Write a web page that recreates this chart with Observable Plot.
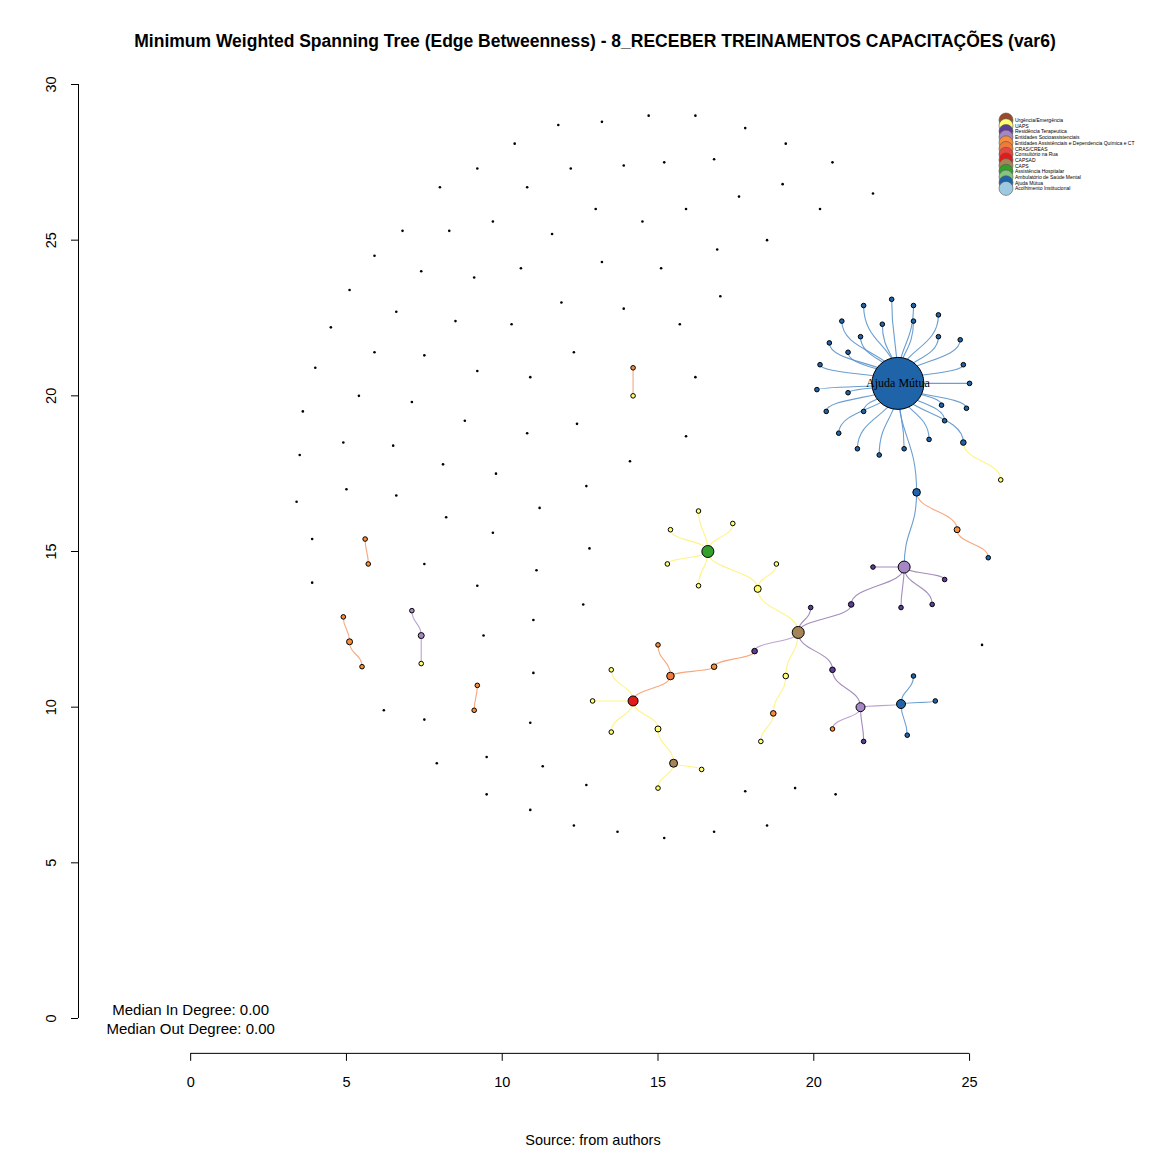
<!DOCTYPE html>
<html><head><meta charset="utf-8">
<script src="https://cdn.jsdelivr.net/npm/d3@7"></script>
<script src="https://cdn.jsdelivr.net/npm/@observablehq/plot@0.6"></script>
<style>
body{margin:0;background:#fff;font-family:"Liberation Sans",Arial,sans-serif}
#wrap{position:relative;width:1152px;height:1152px}
#title{position:absolute;top:31px;left:0;width:1190px;text-align:center;font-weight:bold;font-size:17.5px}
#source{position:absolute;top:1132px;left:0;width:1186px;text-align:center;font-size:14.5px}
#legend{position:absolute;left:995px;top:110px}
</style></head>
<body><div id="wrap"><div id="chart"></div>
<div id="title">Minimum Weighted Spanning Tree (Edge Betweenness) - 8_RECEBER TREINAMENTOS CAPACITAÇÕES (var6)</div>
<div id="source">Source: from authors</div>
<div id="legend"></div></div>
<script>
// categorias e cores
const categorias = ["Urgência/Emergência","UAPS","Residência Terapeutica","Entidades Socioassistenciais",
  "Entidades Assistênciais e Dependencia Química e CT","CRAS/CREAS","Consultório na Rua","CAPSAD","CAPS",
  "Assistência Hospitalar","Ambulatório de Saúde Mental","Ajuda Mútua","Acolhimento Institucional"];
const cores = ["#9a4a2a","#ffff73","#5e3c99","#a487c4","#f68e3c","#f07a3a","#e8473f","#e31a1c","#a58458",
  "#33a02c","#86c57f","#1f64a8","#9ecae1"];
const corAresta = {1:"#fff27a",2:"#9a7fb5",3:"#b498cc",4:"#f4a070",5:"#f4a070",11:"#5b93cc",8:"#b498cc"};

// nós isolados (x, y)
const isolados = [[14.7,29.0],[16.2,29.0],[13.2,28.8],[11.8,28.7],[17.8,28.6],[10.4,28.1],[19.1,28.1],
 [9.2,27.3],[12.2,27.3],[13.9,27.4],[15.2,27.5],[16.8,27.6],[20.6,27.5],[8.0,26.7],[10.8,26.7],[17.6,26.4],
 [19.0,26.8],[21.9,26.5],[13.0,26.0],[14.5,25.6],[15.9,26.0],[20.2,26.0],[6.8,25.3],[8.3,25.3],[9.7,25.6],
 [11.6,25.2],[18.5,25.0],[16.9,24.7],[5.9,24.5],[13.2,24.3],[15.1,24.1],[10.6,24.1],[7.4,24.0],[9.1,23.8],
 [5.1,23.4],[11.9,23.0],[13.9,22.8],[17.0,23.2],[6.6,22.7],[8.5,22.4],[15.7,22.3],[4.5,22.2],[10.3,22.3],
 [5.9,21.4],[7.5,21.3],[12.3,21.4],[4.0,20.9],[9.2,20.8],[10.9,20.6],[16.2,20.6],[3.6,19.5],[5.4,20.0],
 [7.1,19.8],[8.8,19.2],[12.4,19.1],[10.8,18.8],[15.9,18.7],[4.9,18.5],[6.5,18.4],[3.5,18.1],[14.1,17.9],
 [8.1,17.8],[9.8,17.5],[12.7,17.1],[5.0,17.0],[6.6,16.8],[3.4,16.6],[11.2,16.4],[8.2,16.1],[9.7,15.6],
 [3.9,15.4],[12.8,15.1],[7.5,14.6],[11.1,14.4],[3.9,14.0],[9.2,13.9],[12.6,13.3],[9.4,12.3],[11.0,12.8],
 [25.4,12.0],[11.0,11.1],[6.2,9.9],[7.5,9.6],[10.9,9.5],[9.5,8.4],[7.9,8.2],[11.3,8.1],[12.7,7.5],
 [9.5,7.2],[17.8,7.3],[19.4,7.4],[20.7,7.2],[10.9,6.7],[12.3,6.2],[13.7,6.0],[15.2,5.8],[16.8,6.0],[18.5,6.2]];

// nós da rede: [id, x, y, categoria, raio]
const nos = [
 ["AM",22.7,20.4,11,26],
 ["a1",21.6,22.9,11,2.3],["a2",22.5,23.1,11,2.3],["a3",23.2,22.9,11,2.3],["a4",24.0,22.6,11,2.3],
 ["a5",20.9,22.4,11,2.3],["a6",22.2,22.3,11,2.3],["a7",23.2,22.4,11,2.3],["a8",24.7,21.8,11,2.3],
 ["a9",20.5,21.7,11,2.3],["a10",21.5,21.9,11,2.3],["a11",24.0,21.9,11,2.3],["a12",20.2,21.0,11,2.3],
 ["a13",21.1,21.4,11,2.3],["a14",24.8,21.0,11,2.3],["a15",25.0,20.4,11,2.3],["a16",20.1,20.2,11,2.3],
 ["a17",21.1,20.1,11,2.3],["a18",20.4,19.5,11,2.3],["a19",21.6,19.5,11,2.3],["a20",24.1,19.7,11,2.3],
 ["a21",24.9,19.6,11,2.3],["a22",20.8,18.8,11,2.3],["a23",21.4,18.3,11,2.3],["a24",22.1,18.1,11,2.3],
 ["a25",22.9,18.3,11,2.3],["a26",23.7,18.6,11,2.3],["a27",24.2,19.2,11,2.3],["a28",24.8,18.5,11,2.8],
 ["y1",26.0,17.3,1,2.3],["b1",23.3,16.9,11,3.8],["o1",24.6,15.7,4,3],["b2",25.6,14.8,11,2.3],
 ["P",22.9,14.5,3,6],["p1",21.9,14.5,2,2.3],["p2",24.2,14.1,2,2.3],["p3",22.8,13.2,2,2.3],["p4",23.8,13.3,2,2.3],
 ["p5",21.2,13.3,2,2.8],["C",19.5,12.4,8,6],["p6",19.9,13.2,2,2.3],
 ["y2",18.2,13.8,1,3.5],["y3",18.8,14.6,1,2.3],["G",16.6,15.0,9,6],
 ["g1",16.3,16.3,1,2.3],["g2",17.4,15.9,1,2.3],["g3",15.4,15.7,1,2.3],["g4",15.3,14.6,1,2.3],["g5",16.3,13.9,1,2.3],
 ["y4",19.1,11.0,1,2.8],["o2",18.7,9.8,4,2.8],["y5",18.3,8.9,1,2.3],
 ["p7",20.6,11.2,2,2.8],["L",21.5,10.0,3,4.5],["o3",20.6,9.3,4,2.3],["p8",21.6,8.9,2,2.3],
 ["B",22.8,10.1,11,4.5],["b3",23.2,11.0,11,2.3],["b4",23.9,10.2,11,2.3],["b5",23.0,9.1,11,2.3],
 ["p9",18.1,11.8,2,2.8],["o4",16.8,11.3,4,2.8],["o5",15.4,11.0,5,3.8],["o6",15.0,12.0,4,2.3],
 ["R",14.2,10.2,7,5],["r1",13.5,11.2,1,2.3],["r2",12.9,10.2,1,2.3],["r3",13.5,9.2,1,2.3],
 ["y6",15.0,9.3,1,3],["K",15.5,8.2,8,4],["k1",16.4,8.0,1,2.3],["k2",15.0,7.4,1,2.3],
 ["q1",14.2,20.9,4,2.3],["q2",14.2,20.0,1,2.3],
 ["q3",5.6,15.4,4,2.3],["q4",5.7,14.6,4,2.3],
 ["q5",4.9,12.9,4,2.3],["q6",5.1,12.1,4,3],["q7",5.5,11.3,4,2.3],
 ["q8",7.1,13.1,3,2.3],["q9",7.4,12.3,3,3],["q10",7.4,11.4,1,2.3],
 ["q11",9.2,10.7,4,2.3],["q12",9.1,9.9,4,2.3]
];

// arestas: [origem, destino, categoria da cor]
const arestas = [
 ...Array.from({length:28},(_, i)=>["AM","a"+(i+1),11]),
 ["a28","y1",1],["AM","b1",11],["b1","o1",4],["o1","b2",4],["b1","P",11],
 ["P","p1",2],["P","p2",2],["P","p3",2],["P","p4",2],["P","p5",2],["p5","C",2],["C","p6",2],
 ["C","y2",1],["y2","y3",1],["y2","G",1],["G","g1",1],["G","g2",1],["G","g3",1],["G","g4",1],["G","g5",1],
 ["C","y4",1],["y4","o2",1],["o2","y5",1],
 ["C","p7",2],["p7","L",2],["L","o3",3],["L","p8",2],["L","B",3],["B","b3",11],["B","b4",11],["B","b5",11],
 ["C","p9",3],["p9","o4",4],["o4","o5",4],["o5","o6",4],["o5","R",4],
 ["R","r1",1],["R","r2",1],["R","r3",1],["R","y6",1],["y6","K",1],["K","k1",1],["K","k2",1],
 ["q1","q2",4],["q3","q4",4],["q5","q6",4],["q6","q7",4],["q8","q9",3],["q9","q10",3],["q11","q12",4]
];

const byId = new Map(nos.map(d => [d[0], d]));
const links = arestas.map(([a,b,t]) => ({x1:byId.get(a)[1], y1:byId.get(a)[2], x2:byId.get(b)[1], y2:byId.get(b)[2], c:corAresta[t] ?? cores[t]}));
const noObjs = nos.map(d => ({id:d[0], x:d[1], y:d[2], fill:cores[d[3]], r:d[4]}));
const xTicks = [0,5,10,15,20,25];

const chart = Plot.plot({
  width: 1152, height: 1152,
  marginLeft: 78, marginRight: 77, marginTop: 84, marginBottom: 134,
  x: {domain: [-3.6, 28.4], axis: null},
  y: {domain: [0, 30]},
  r: {type: "identity"},
  style: {fontFamily: "Liberation Sans, Arial, sans-serif", fontSize: "14px", color: "#000"},
  marks: [
    Plot.axisY({ticks: [0,5,10,15,20,25,30], tickSize: 7, tickPadding: 16, tickRotate: -90, fontSize: 14.5, label: null}),
    Plot.ruleX([-3.6], {y1: 0, y2: 30, stroke: "#000"}),
    Plot.ruleY([-1.12], {x1: 0, x2: 25, stroke: "#000"}),
    Plot.link(xTicks, {x1: d => d, x2: d => d, y1: -1.12, y2: -1.36, stroke: "#000"}),
    Plot.text(xTicks, {x: d => d, y: -2.05, text: d => String(d), fontSize: 14.5}),
    Plot.link(links, {x1: "x1", y1: "y1", x2: "x2", y2: "y2", stroke: "c", curve: "bump-y", strokeWidth: 1.1, strokeOpacity: 0.9}),
    Plot.dot(isolados, {x: d => d[0], y: d => d[1], r: 1.3, fill: "#000"}),
    Plot.dot(noObjs, {x: "x", y: "y", r: "r", fill: "fill", stroke: "#000", strokeWidth: 1}),
    Plot.text(noObjs.filter(d => d.id === "AM"), {x: "x", y: "y", text: () => "Ajuda Mútua", fontFamily: "Liberation Serif, serif", fontSize: 12}),
    Plot.text(["Median In Degree: 0.00", "Median Out Degree: 0.00"], {x: 0, y: (d, i) => i === 0 ? 0.28 : -0.33, text: d => d, fontSize: 15})
  ]
});
document.getElementById("chart").append(chart);

// legenda
const lg = d3.select("#legend").append("svg").attr("width", 150).attr("height", 90);
categorias.forEach((c, i) => {
  lg.append("circle").attr("cx", 11).attr("cy", 10 + i * 5.7).attr("r", 7)
    .attr("fill", cores[i]).attr("stroke", "#555").attr("stroke-width", 0.6);
});
categorias.forEach((c, i) => {
  lg.append("text").attr("x", 20).attr("y", 12 + i * 5.7).attr("font-size", 5).text(c);
});
</script></body></html>
